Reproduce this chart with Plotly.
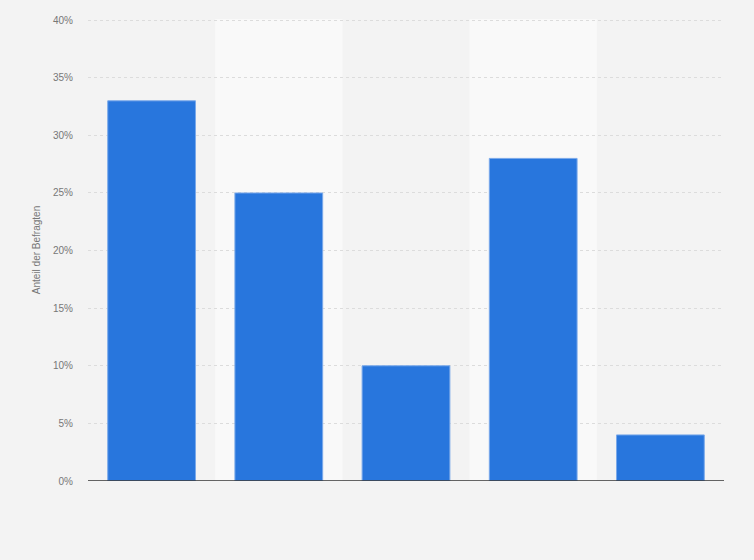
import plotly.graph_objects as go

categories = ["A", "B", "C", "D", "E"]
shares = [33, 25, 10, 28, 4]
y_ticks = [0, 5, 10, 15, 20, 25, 30, 35, 40]
y_labels = [str(t) + "%" for t in y_ticks]

x_pos = list(range(len(categories)))

fig = go.Figure(go.Bar(
    x=x_pos,
    y=shares,
    width=0.69,
    marker=dict(color="#2876dd", line=dict(color="#7aa9ea", width=1)),
    hoverinfo="y",
))

# lighter stripes behind every second column
shapes = []
for i in x_pos:
    if i % 2 == 1:
        shapes.append(dict(type="rect", xref="x", yref="paper",
                           x0=i - 0.5, x1=i + 0.5, y0=0, y1=1,
                           fillcolor="#f9f9f9", line=dict(width=0), layer="below"))

fig.update_layout(
    width=754, height=560,
    margin=dict(l=88, r=30, t=19, b=79),
    paper_bgcolor="#f3f3f3",
    plot_bgcolor="#f3f3f3",
    shapes=shapes,
    showlegend=False,
    font=dict(family="Arial, Liberation Sans, sans-serif", size=10, color="#777777"),
    xaxis=dict(range=[-0.5, 4.5], showticklabels=False, showgrid=False,
               zeroline=False, showline=False, ticks=""),
    yaxis=dict(range=[0, 40.1], tickvals=y_ticks, ticktext=y_labels,
               showgrid=True, gridcolor="#dcdcdc", griddash="dot", gridwidth=1,
               zeroline=False, showline=False, ticks="", ticklen=0,
               ticklabelstandoff=14,
               tickfont=dict(size=10, color="#777777"),
               title=dict(text="Anteil der Befragten", standoff=10,
                          font=dict(size=10, color="#777777"))),
)

fig.add_shape(type="line", xref="paper", yref="y", x0=0, x1=1, y0=0, y1=0,
              line=dict(color="#333333", width=1.3))

fig.write_html("out.html", config={"displayModeBar": False},
               post_script="document.body.style.margin='0';"
                           "document.body.style.background='#f3f3f3';")
